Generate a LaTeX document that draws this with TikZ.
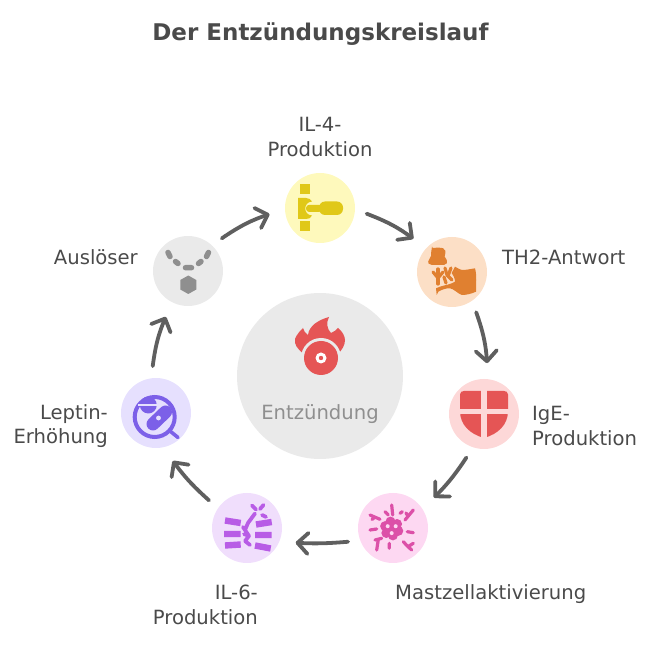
\documentclass[tikz,border=0pt]{standalone}
\usepackage{fontspec}
\setmainfont{DejaVu Sans}
\usetikzlibrary{arrows.meta}
\definecolor{ink}{HTML}{4A4A4A}
\definecolor{arrowc}{HTML}{5F5F5F}
\definecolor{grayb}{HTML}{EAEAEA}\definecolor{grayf}{HTML}{8F8F8F}
\definecolor{yelb}{HTML}{FEF9BC}\definecolor{yelf}{HTML}{E0C818}
\definecolor{orab}{HTML}{FCDFC6}\definecolor{oraf}{HTML}{E08030}
\definecolor{redb}{HTML}{FDD8D8}\definecolor{redf}{HTML}{E55555}
\definecolor{pinb}{HTML}{FDD8F2}\definecolor{pinf}{HTML}{DC50A8}
\definecolor{purb}{HTML}{F0DEFC}\definecolor{purf}{HTML}{B85CE6}
\definecolor{lavb}{HTML}{E6E0FE}\definecolor{lavf}{HTML}{7C60E8}
\pgfdeclarearrow{
  name=Chev,
  parameters={\the\pgfarrowlength},
  setup code={
    \pgfarrowssettipend{1.8pt}
    \pgfarrowssetlineend{0pt}
    \pgfarrowssetbackend{-\pgfarrowlength}
    \pgfarrowssavethe\pgfarrowlength
  },
  drawing code={
    \pgfsetroundcap\pgfsetroundjoin\pgfsetdash{}{0pt}
    \pgfpathmoveto{\pgfqpoint{-\pgfarrowlength}{\pgfarrowlength}}
    \pgfpathlineto{\pgfqpoint{0pt}{0pt}}
    \pgfpathlineto{\pgfqpoint{-\pgfarrowlength}{-\pgfarrowlength}}
    \pgfusepathqstroke
  },
  defaults={length=10.5pt}
}
\tikzset{
  x=1pt,y=-1pt,
  disc/.style={circle,inner sep=0pt,minimum size=70pt,outer sep=12pt},
  hub/.style={circle,fill=grayb,inner sep=0pt,minimum size=166pt},
  lab/.style={text=ink,font=\fontsize{19.6}{24.5}\selectfont,inner sep=0pt},
  flow/.style={draw=arrowc,line width=3.8pt,line cap=round,line join=round,shorten >=4pt,-{Chev}},
}
\begin{document}
\begin{tikzpicture}
\useasboundingbox (0,0) rectangle (665,652);
% hub and discs
\node[hub] (hub) at (320,376) {};
\node[disc,fill=grayb] (trig) at (188,271) {};
\node[disc,fill=yelb] (il4) at (320,208) {};
\node[disc,fill=orab] (th2) at (452,272) {};
\node[disc,fill=redb] (ige) at (484,414) {};
\node[disc,fill=pinb] (mast) at (393,528) {};
\node[disc,fill=purb] (il6) at (247,528) {};
\node[disc,fill=lavb] (lep) at (156,413) {};
% texts
\node[text=ink,font=\bfseries\fontsize{23}{26}\selectfont,inner sep=0pt] (title) at (320.5,34.5) {Der Entzündungskreislauf};
\node[lab,align=center] (t1) at (320,137) {IL-4-\\Produktion};
\node[lab,anchor=west] (t2) at (502,257) {TH2-Antwort};
\node[lab,align=left,anchor=west] (t3) at (532,426) {IgE-\\Produktion};
\node[lab,anchor=west] (t4) at (395,594) {Mastzellaktivierung};
\node[lab,align=right,anchor=east] (t5) at (258,605) {IL-6-\\Produktion};
\node[lab,align=right,anchor=east] (t6) at (108,426) {Leptin-\\Erhöhung};
\node[lab,anchor=east] (t7) at (138,257) {Auslöser};
\node[lab,text=grayf] (t8) at (320,414) {Entzündung};
% connectors
\draw[flow] (trig.44) to[bend left=8] (il4.186);
\draw[flow] (il4.-7) to[bend left=8] (th2.139);
\draw[flow] (th2.-59) to[bend left=8] (ige.86);
\draw[flow] (ige.248) to[bend left=6] (mast.36);
\draw[flow] (mast.197) to[bend left=4] (il6.-18);
\draw[flow] (il6.144) to[bend left=6] (lep.-72);
\draw[flow] (lep.94) to[bend left=8] (trig.244);
% --- flame icon
\fill[redf] (304,354) .. controls (297,349) and (294,344) .. (295,339)
  .. controls (297,334) and (300,331) .. (303,328)
  .. controls (304,331) and (305,333) .. (308,335)
  .. controls (309,326) and (318,320) .. (329,317)
  .. controls (326,323) and (327,329) .. (331,333)
  .. controls (334,332) and (336,330) .. (338,328)
  .. controls (342,331) and (345,336) .. (345,340)
  .. controls (345,345) and (342,350) .. (338,354) -- cycle;
\fill[grayb] (321,358) circle (20);
\fill[redf] (321,358) circle (17);
\fill[white] (321,358) circle (5.5);
\fill[redf] (321,358) circle (2.2);
% --- trigger icon
\draw[grayf,line width=5.5pt,line cap=round]
  (168,252.5) -- (170,256.5) (175.5,261.5) -- (178,263.5) (185.5,267.7) -- (191.5,267.7)
  (198.5,263.5) -- (201,261.5) (206.5,256.5) -- (208.5,252.5);
\fill[grayf] (188.3,275.5) -- (196.3,280) -- (196.3,289.5) -- (188.3,294) -- (180.3,289.5) -- (180.3,280) -- cycle;
% --- IL-4 icon
\fill[yelf] (299.5,184.5) rectangle (309.5,194.5);
\fill[yelf] (299.5,221.5) rectangle (309.5,231.5);
\fill[yelf] (298,198) -- (306,198) .. controls (309,198) and (311,199.5) .. (312,201.5)
  .. controls (303,202) and (303,215) .. (312,215.5)
  .. controls (311,218) and (309,219) .. (306,219) -- (298,219) -- cycle;
\fill[yelf,rounded corners=3.3pt] (306,204.8) rectangle (322,212);
\fill[yelf,rounded corners=6pt] (319,201.5) rectangle (343,215);
% --- TH2 icon
\fill[oraf,rounded corners=2pt] (432,248.5) .. controls (436,247.5) and (441,247.5) .. (445,249)
  .. controls (446,253) and (444.5,256) .. (445,258.5) .. controls (447,260) and (447,263) .. (446,265)
  -- (430,265) .. controls (428,263) and (428,260) .. (431,258) .. controls (431,255) and (431,252) .. cycle;
\fill[oraf] (455,266.7) .. controls (458,268) and (460,270) .. (462,270)
  .. controls (466,270) and (471,269) .. (475,268.3)
  .. controls (477,275) and (476,285) .. (476,291.7)
  .. controls (471,294) and (466,295) .. (461.7,295)
  .. controls (457,293) and (454,289) .. (450,288.3)
  .. controls (446,288) and (441,290) .. (438.3,291.7)
  -- (436.7,295) -- (436,288.3)
  .. controls (441,286) and (446,285) .. (446.7,285)
  .. controls (450,284) and (453,283) .. (455,281.7)
  .. controls (455,278) and (453,275) .. (451.7,273) -- cycle;
\begin{scope}[draw=oraf,line width=3.2pt,line cap=round,line join=round]
\draw (438,269) -- (438,284);
\draw (433,272) -- (438,278) -- (443,272);
\draw (445,268) -- (447,275) -- (452,280);
\draw (451,268) -- (448,276);
\draw (444,277) -- (446,283);
\end{scope}
% --- IgE icon
\fill[redf] (460,394.5) .. controls (460,392) and (462,391) .. (464,391) -- (504,391)
  .. controls (506,391) and (508,392) .. (508,394.5) -- (508,411)
  .. controls (508,425) and (498,434) .. (484,438)
  .. controls (470,434) and (460,425) .. (460,411) -- cycle;
\fill[redb] (481,389) rectangle (487,440);
\fill[redb] (458,409.5) rectangle (510,414.5);
% --- mast icon
\foreach \a in {0,60,...,300}{\fill[pinf] (391.7,528.5)++(\a+20:7) circle (5);}
\fill[pinf] (391.7,528.5) circle (6);
\foreach \a in {210,330,90}{\fill[pinb] (391.7,528.5)++(\a:4.6) circle (2);}
\draw[pinf,line width=3.2pt,line cap=round,line join=round]
  (370,515) -- (380,519.3) (372,519.5) -- (375,517)
  (391.7,505) -- (392.7,515) (385,511.7) -- (388.3,515)
  (400,513.3) -- (402.3,511.7)
  (413.3,510) -- (405,520) (406,513) -- (408,516)
  (370,530) -- (376.7,529) (407.3,531.7) -- (413.3,532.7)
  (375,540) -- (381.7,538.3) (376.7,550) -- (378.3,539.5)
  (389.3,543.3) -- (389.3,548.3)
  (403.3,541.7) -- (408,546.7) (413.3,543.3) -- (408,546.7) -- (411.7,550);
% --- IL-6 icon
\draw[purf,line width=6.4pt]
  (225,520.5) -- (240.7,523) (224,534) -- (240.7,534) (225,545.5) -- (240.7,544.5)
  (256,524.5) -- (271.7,522) (255,535) -- (271.7,535) (255,545.5) -- (270.7,548.5);
\draw[purf,line width=3.8pt,line cap=round,line join=round]
  (255,513.5) -- (248,523) -- (245,530) -- (249,536) -- (245,541) -- (250,545)
  (245,530) -- (243,527) (249,536) -- (244,534);
\draw[purf,line width=3.8pt,line cap=round]
  (252,505.5) -- (256,509.5) (263.5,505) -- (260,509) (262,515) -- (266,517);
% --- Leptin icon
\draw[lavf,line width=4pt] (154.7,417) circle (20);
\draw[lavf,line width=3.6pt,line cap=round] (170,431) -- (178,437.5);
\fill[lavf] (148.3,405) circle (8.5);
\fill[lavb] (138,403.6) rectangle (158.5,406.4);
\draw[lavf,line width=13pt,line cap=round] (153,424) -- (165.5,412);
\fill[lavb] (158.5,418) circle (2.4);
\end{tikzpicture}
\end{document}
